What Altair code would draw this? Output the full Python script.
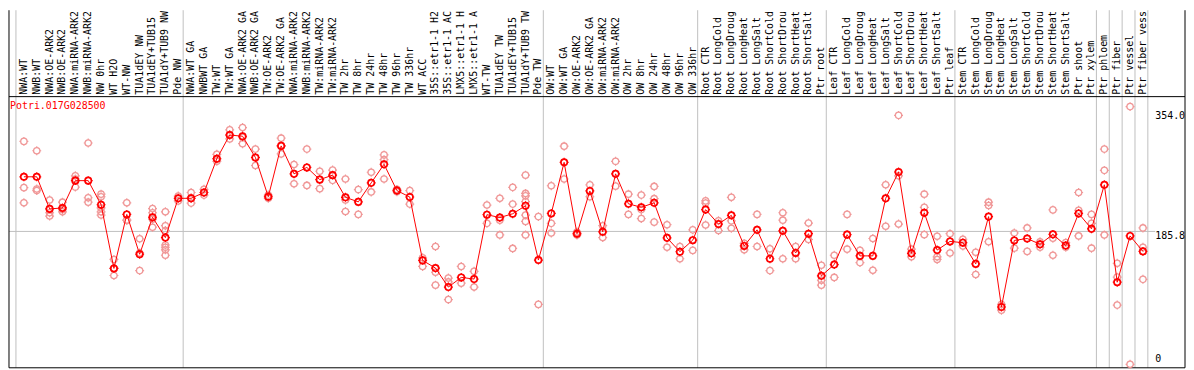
import altair as alt
import pandas as pd

gene = "Potri.017G028500"

labels = [
    "NWA:WT", "NWB:WT", "NWA:OE-ARK2", "NWB:OE-ARK2", "NWA:miRNA-ARK2", "NWB:miRNA-ARK2",
    "NW 0hr", "WT H2O", "WT-NW", "TUA1dEY NW", "TUA1dEY+TUB15 NW", "TUA1dY+TUB9 NW", "Pde NW",
    "NWA:WT GA", "NWBWT GA", "TW:WT", "TW:WT GA", "NWA:OE-ARK2 GA", "NWB:OE-ARK2 GA",
    "TW:OE-ARK2", "TW:OE-ARK2 GA", "NWA:miRNA-ARK2 GA", "NWB:miRNA-ARK2 GA", "TW:miRNA-ARK2",
    "TW:miRNA-ARK2", "TW 2hr", "TW 8hr", "TW 24hr", "TW 48hr", "TW 96hr", "TW 336hr", "WT ACC",
    "35S::etr1-1 H2O", "35S::etr1-1 ACC", "LMX5::etr1-1 H2O", "LMX5::etr1-1 ACC", "WT-TW",
    "TUA1dEY TW", "TUA1dEY+TUB15 TW", "TUA1dY+TUB9 TW", "Pde TW",
    "OW:WT", "OW:WT GA", "OW:OE-ARK2", "OW:OE-ARK2 GA", "OW:miRNA-ARK2", "OW:miRNA-ARK2",
    "OW 2hr", "OW 8hr", "OW 24hr", "OW 48hr", "OW 96hr", "OW 336hr",
    "Root CTR", "Root LongCold", "Root LongDrought", "Root LongHeat", "Root LongSalt",
    "Root ShortCold", "Root ShortDrought", "Root ShortHeat", "Root ShortSalt", "Ptr root",
    "Leaf CTR", "Leaf LongCold", "Leaf LongDrought", "Leaf LongHeat", "Leaf LongSalt",
    "Leaf ShortCold", "Leaf ShortDrought", "Leaf ShortHeat", "Leaf ShortSalt", "Ptr leaf",
    "Stem CTR", "Stem LongCold", "Stem LongDrought", "Stem LongHeat", "Stem LongSalt",
    "Stem ShortCold", "Stem ShortDrought", "Stem ShortHeat", "Stem ShortSalt", "Ptr shoot",
    "Ptr xylem", "Ptr phloem", "Ptr fiber", "Ptr vessel", "Ptr fiber vessel",
]

means = [
    262.2, 262.2, 217.3, 218.6, 256.8, 256.8, 223.1, 134.1, 209.6, 153.9, 205.6, 177.2, 232.1,
    232.1, 240.2, 287.4, 320.6, 318.9, 289.2, 234.3, 305.4, 266.3, 275.3, 258.2, 264.5, 233.5,
    227.1, 253.7, 279.7, 242.9, 233.9, 145.3, 134.5, 108.0, 121.5, 119.2, 209.2, 205.2, 210.5,
    221.7, 145.8,
    211.0, 282.4, 182.6, 242.4, 185.3, 266.3, 224.4, 219.5, 225.8, 176.8, 157.4, 173.6,
    216.3, 196.1, 208.3, 165.5, 188.0, 147.6, 186.7, 155.7, 182.6, 123.7,
    139.5, 181.3, 151.6, 151.6, 232.1, 268.9, 155.2, 211.9, 159.7, 171.8,
    170.1, 140.4, 206.5, 80.1, 173.2, 175.9, 167.8, 181.7, 166.0, 211.0, 189.4,
    251.0, 114.8, 179.5, 157.9,
]

replicates = [
    [311.7, 247.0, 225.8], [298.6, 242.9, 245.1], [229.8, 211.9, 207.3], [226.7, 213.2, 216.3],
    [263.6, 247.8, 259.1], [309.4, 232.9, 226.7], [237.9, 234.3, 218.6, 213.2, 208.7],
    [146.6, 124.2, 134.1], [225.8, 201.5, 201.5], [175.5, 131.0, 155.7],
    [217.7, 211.9, 191.7, 202.9], [213.2, 193.8, 187.1, 166.8, 163.7, 160.1, 152.5],
    [235.2, 228.5],
    [240.2, 225.4, 232.5], [244.7, 236.6], [293.6, 283.8, 287.4], [327.9, 315.2, 320.6],
    [331.0, 308.5, 317.5], [300.9, 278.0, 289.2], [236.6, 232.1], [316.2, 294.2, 305.4],
    [279.3, 252.4], [300.9, 250.1], [269.9, 245.6], [271.6, 257.2], [259.1, 229.8, 213.6],
    [244.3, 209.6], [268.5, 241.0], [292.8, 286.1, 259.1], [244.5, 241.3], [242.9, 224.0],
    [148.9, 136.8], [164.7, 128.7, 110.7], [120.6, 90.5, 115.2], [136.8, 113.4], [130.0, 108.0],
    [222.7, 197.1], [232.1, 201.5, 180.9], [247.4, 224.0, 162.0],
    [264.5, 238.9, 235.6, 227.5, 208.7, 199.8, 180.9], [206.5, 83.8],
    [249.7, 197.1, 183.6], [305.0, 259.1], [180.9, 184.9], [251.0, 234.3], [193.8, 177.2],
    [283.8, 249.1], [237.9, 209.6], [236.6, 216.3, 203.8], [248.7, 231.6, 198.8],
    [195.2, 163.7], [164.7, 147.6], [188.0, 159.3],
    [228.5, 225.4, 194.8], [200.6, 187.1], [233.5, 200.6, 190.3], [169.1, 160.1],
    [209.6, 164.7], [161.5, 131.0], [211.9, 201.5, 147.6], [164.7, 147.6], [197.5, 174.5],
    [138.5, 117.5, 110.7],
    [152.5, 121.5], [209.6, 161.0], [159.3, 142.2], [175.9, 131.4], [251.0, 193.0],
    [348.1, 263.6, 196.1], [161.0, 150.3], [237.9, 219.5, 181.3], [179.0, 150.3, 146.6],
    [182.6, 155.7],
    [174.9, 165.5], [156.6, 125.6], [226.7, 222.1, 171.4], [83.8, 75.7], [183.6, 162.4],
    [190.7, 157.9], [163.7, 171.4], [215.9, 176.3, 152.5], [170.1, 163.7],
    [240.2, 215.4, 179.5], [209.6, 197.1, 162.4],
    [300.9, 271.2, 180.9], [141.2, 121.9, 82.8], [360.3, 0.0], [190.7, 163.7, 118.8],
]

# first column index of each group (plus the end)
group_starts = [0, 13, 41, 53, 63, 73, 84, 85, 86, 87, 88]
tick_top = [354.0, 185.8]
tick_bottom = [0.0]
ref_line = [185.8]

# ---- layout (pixels) ----
W, H = 1184, 360
X0, STEP = 15, 12.95
PANEL = 87
Y_ZERO_PX, Y_MAX_PX = 356.5, 101.6
FONT = "DejaVu Sans Mono"
PINK = "#f09898"
TICKS = "M0,-0.68L0,-1M0,0.68L0,1M-0.68,0L-1,0M0.68,0L1,0"

xs = alt.Scale(domain=[-X0 / STEP, (W - X0) / STEP], nice=False, zero=False)
ys = alt.Scale(domain=[0, 354], range=[Y_ZERO_PX, Y_MAX_PX], nice=False, zero=False)

df_mean = pd.DataFrame({"i": list(range(len(labels))), "label": labels, "v": means})
df_rep = pd.DataFrame(
    [{"i": i, "v": v} for i, vals in enumerate(replicates) for v in vals]
)
df_bound = pd.DataFrame({"b": [g - 8 / STEP for g in group_starts]})
df_one = pd.DataFrame({"t": [gene]})

X = alt.X("i:Q", scale=xs, axis=None)
Y = alt.Y("v:Q", scale=ys, axis=None)

bounds = alt.Chart(df_bound).mark_rule(color="#c0c0c0", strokeWidth=1).encode(
    x=alt.X("b:Q", scale=xs, axis=None), y=alt.value(0), y2=alt.value(H)
)
hline = alt.Chart(pd.DataFrame({"v": ref_line})).mark_rule(color="#c0c0c0", strokeWidth=1).encode(
    y=Y, x=alt.value(0), x2=alt.value(1154)
)
frame_rule = alt.Chart(df_one).mark_rule(color="black", strokeWidth=1)
divider = frame_rule.encode(y=alt.value(PANEL), x=alt.value(0), x2=alt.value(W))
left_edge = frame_rule.encode(x=alt.value(0), y=alt.value(0), y2=alt.value(H))
right_edge = frame_rule.encode(x=alt.value(W), y=alt.value(0), y2=alt.value(H))
bottom_edge = frame_rule.encode(y=alt.value(H), x=alt.value(0), x2=alt.value(W))

col_labels = alt.Chart(df_mean).mark_text(
    angle=270, align="left", baseline="middle", font=FONT, fontSize=10,
    limit=PANEL - 1, ellipsis="\u200b", color="black",
).encode(x=X, y=alt.value(PANEL - 2), text="label:N")


def sun(df, color, sw):
    ring = alt.Chart(df).mark_point(
        shape="circle", filled=False, size=41, color=color, strokeWidth=sw, opacity=1
    ).encode(x=X, y=Y)
    ticks = alt.Chart(df).mark_point(
        shape=TICKS, filled=False, size=81, color=color, strokeWidth=1.2, opacity=1
    ).encode(x=X, y=Y)
    return ring + ticks


reps = sun(df_rep, PINK, 1.3)
line = alt.Chart(df_mean).mark_line(color="red", strokeWidth=1).encode(x=X, y=Y)
pts = sun(df_mean, "red", 1.7)

title = alt.Chart(df_one).mark_text(
    align="left", baseline="top", font=FONT, fontSize=10, color="red"
).encode(x=alt.value(1), y=alt.value(91), text="t:N")

ax_top = alt.Chart(pd.DataFrame({"v": tick_top})).mark_text(
    align="left", baseline="top", font=FONT, fontSize=10, color="black"
).encode(x=alt.value(1154), y=Y, text=alt.Text("v:Q", format=".1f"))
ax_bottom = alt.Chart(pd.DataFrame({"v": tick_bottom})).mark_text(
    align="left", baseline="bottom", font=FONT, fontSize=10, color="black"
).encode(x=alt.value(1154), y=Y, text=alt.Text("v:Q", format="d"))

chart = alt.layer(
    bounds, hline, divider, left_edge, right_edge, bottom_edge, col_labels,
    reps, line, pts, title, ax_top, ax_bottom
).properties(
    width=W, height=H,
    autosize=alt.AutoSizeParams(type="none"),
    padding={"left": 1, "top": 1, "right": 1, "bottom": 1},
    background="white",
).configure_view(strokeWidth=0)

chart.save("out.html", embed_options={"renderer": "svg", "actions": False})
